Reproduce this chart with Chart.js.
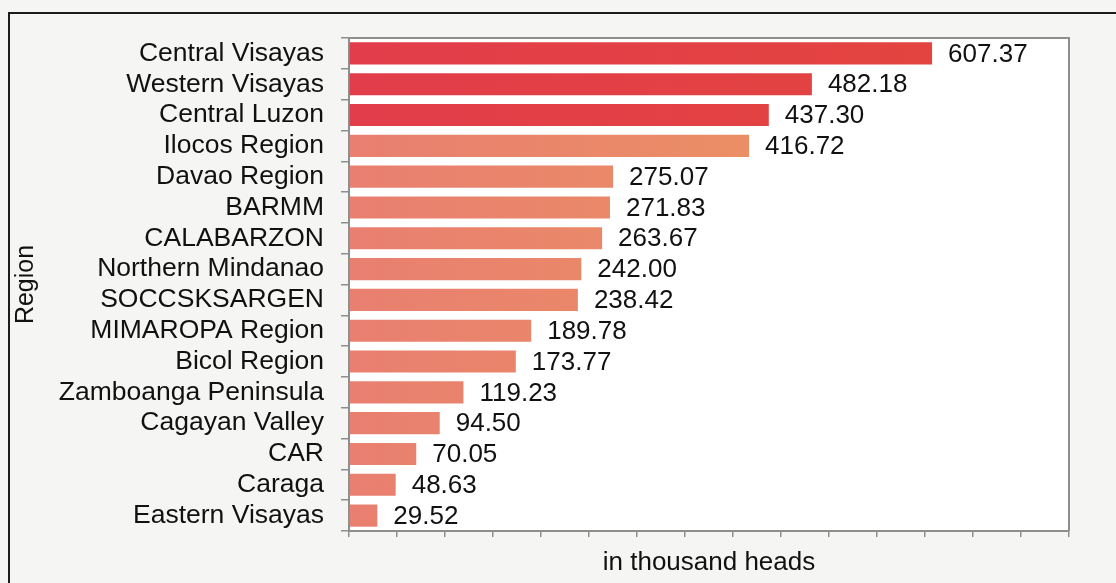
<!DOCTYPE html>
<html>
<head>
<meta charset="utf-8">
<script src="https://cdn.jsdelivr.net/npm/chart.js@4/dist/chart.umd.min.js"></script>
<style>
  html, body { margin: 0; padding: 0; background: #f5f5f4; }
  .wrap { position: relative; width: 1116px; height: 583px; overflow: hidden; }
  .frame { position: absolute; left: 8px; top: 12px; width: 1200px; height: 700px;
           border-left: 2px solid #1c1c1c; border-top: 2px solid #1c1c1c; }
  canvas { position: absolute; left: 0; top: 0; }
</style>
</head>
<body>
<div class="wrap">
  <div class="frame"></div>
  <canvas id="chart" width="1116" height="583"></canvas>
</div>
<script>
const regions = [
  "Central Visayas", "Western Visayas", "Central Luzon", "Ilocos Region",
  "Davao Region", "BARMM", "CALABARZON", "Northern Mindanao",
  "SOCCSKSARGEN", "MIMAROPA Region", "Bicol Region", "Zamboanga Peninsula",
  "Cagayan Valley", "CAR", "Caraga", "Eastern Visayas"
];
const heads = [607.37, 482.18, 437.30, 416.72, 275.07, 271.83, 263.67, 242.00,
               238.42, 189.78, 173.77, 119.23, 94.50, 70.05, 48.63, 29.52];
// top three drawn in red, the rest in orange
const redCount = 3;
const xMin = 0, xMax = 750, xStep = 50;

const axisGray = "#8e8e8e";
const font = "Liberation Sans, Arial, sans-serif";

function barFill(ctx) {
  const area = ctx.chart.chartArea;
  if (!area) return "#e9846a";
  const g = ctx.chart.ctx.createLinearGradient(area.left, 0, area.left + 600, 0);
  if (ctx.dataIndex < redCount) {
    g.addColorStop(0, "#e23d4b");
    g.addColorStop(1, "#e3443f");
  } else {
    g.addColorStop(0, "#e97f70");
    g.addColorStop(0.5, "#ea8a68");
    g.addColorStop(1, "#ec975e");
  }
  return g;
}

const plotBox = {
  id: "plotBox",
  beforeDraw(chart) {
    const { ctx, chartArea: a } = chart;
    ctx.save();
    ctx.fillStyle = "#ffffff";
    ctx.fillRect(a.left, a.top, a.right - a.left, a.bottom - a.top);
    ctx.restore();
  },
  afterDraw(chart) {
    const { ctx, chartArea: a } = chart;
    ctx.save();
    ctx.strokeStyle = axisGray;
    ctx.lineWidth = 2;
    ctx.beginPath();
    ctx.moveTo(a.left, a.top);
    ctx.lineTo(a.right, a.top);
    ctx.lineTo(a.right, a.bottom);
    ctx.stroke();
    ctx.restore();
  }
};

const valueLabels = {
  id: "valueLabels",
  afterDatasetsDraw(chart) {
    const ctx = chart.ctx;
    const meta = chart.getDatasetMeta(0);
    ctx.save();
    ctx.font = "26px " + font;
    ctx.fillStyle = "#111";
    ctx.textAlign = "left";
    ctx.textBaseline = "middle";
    meta.data.forEach((bar, i) => {
      ctx.fillText(heads[i].toFixed(2), bar.x + 16, bar.y + 1);
    });
    ctx.restore();
  }
};

new Chart(document.getElementById("chart"), {
  type: "bar",
  data: {
    labels: regions,
    datasets: [{
      data: heads,
      backgroundColor: barFill,
      borderWidth: 0,
      barPercentage: 0.72,
      categoryPercentage: 1
    }]
  },
  options: {
    indexAxis: "y",
    responsive: false,
    animation: false,
    layout: { padding: { left: 8, top: 38, right: 47, bottom: 0 } },
    plugins: { legend: { display: false }, tooltip: { enabled: false } },
    scales: {
      x: {
        min: xMin, max: xMax,
        ticks: { stepSize: xStep, display: false },
        grid: { drawOnChartArea: false, drawTicks: true, tickLength: 6, color: axisGray, lineWidth: 1.5 },
        border: { display: true, color: axisGray, width: 2 },
        title: { display: true, text: "in thousand heads", color: "#111",
                 font: { family: font, size: 26 }, padding: { top: 0, bottom: 5 } },
        afterFit(scale) { scale.height = 52; }
      },
      y: {
        ticks: { autoSkip: false, color: "#111", padding: 17, font: { family: font, size: 26.5 } },
        grid: { offset: true, drawOnChartArea: false, drawTicks: true, tickLength: 8, color: axisGray, lineWidth: 1.5 },
        border: { display: true, color: axisGray, width: 2 },
        title: { display: true, text: "Region", color: "#111",
                 font: { family: font, size: 25 }, padding: { top: 3, bottom: 0 } },
        afterFit(scale) { scale.width = 341; }
      }
    }
  },
  plugins: [plotBox, valueLabels]
});
</script>
</body>
</html>
